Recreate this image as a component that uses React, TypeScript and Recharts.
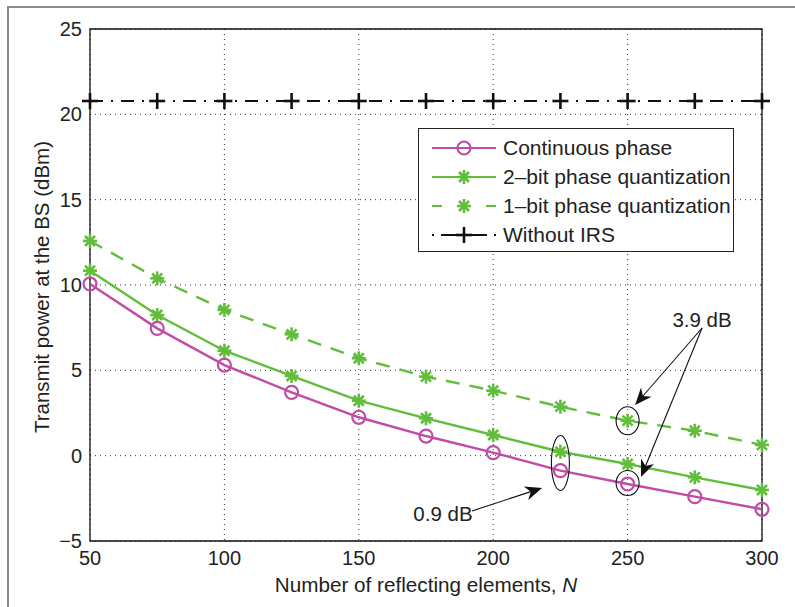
import React from "react";
import {
  LineChart,
  Line,
  XAxis,
  YAxis,
  CartesianGrid,
  ReferenceArea,
  ReferenceDot,
  ReferenceLine,
  Label,
} from "recharts";

const elements = [50, 75, 100, 125, 150, 175, 200, 225, 250, 275, 300];
const continuousPhase = [10.06, 7.46, 5.31, 3.71, 2.25, 1.15, 0.18, -0.88, -1.66, -2.4, -3.14];
const twoBit = [10.84, 8.24, 6.15, 4.67, 3.22, 2.19, 1.21, 0.23, -0.49, -1.27, -2.01];
const oneBit = [12.58, 10.39, 8.54, 7.11, 5.71, 4.63, 3.81, 2.87, 2.05, 1.46, 0.63];
const withoutIRS = [20.78, 20.78, 20.78, 20.78, 20.78, 20.78, 20.78, 20.78, 20.78, 20.78, 20.78];

const xTicks = [50, 100, 150, 200, 250, 300];
const yTicks = [-5, 0, 5, 10, 15, 20, 25];

const legendNames = [
  "Continuous phase",
  "2\u2013bit phase quantization",
  "1\u2013bit phase quantization",
  "Without IRS",
];

// annotation positions in data units
const ellipses = [
  { x: 225, y: -0.43, rx: 9, ry: 27.5 },
  { x: 250, y: 2.05, rx: 11.5, ry: 14 },
  { x: 250, y: -1.6, rx: 11.5, ry: 12.5 },
];
const arrows = [
  { from: { x: 277.7, y: 7.48 }, to: { x: 252.8, y: 2.97 } },
  { from: { x: 277.7, y: 7.48 }, to: { x: 255.0, y: -1.25 } },
  { from: { x: 192.1, y: -3.24 }, to: { x: 218.2, y: -1.89 } },
];
const notes = [
  { x: 277.7, y: 7.95, text: "3.9 dB" },
  { x: 181.3, y: -3.36, text: "0.9 dB" },
];

const data = elements.map((n, i) => ({
  n,
  cont: continuousPhase[i],
  two: twoBit[i],
  one: oneBit[i],
  none: withoutIRS[i],
}));

const MAGENTA = "#c04ca6";
const GREEN = "#62bd3c";
const FONT = "'Liberation Sans', Arial, sans-serif";

const Circle = ({ cx, cy }: any) => (
  <circle cx={cx} cy={cy} r={6.5} fill="none" stroke={MAGENTA} strokeWidth={2.2} />
);

const Star = ({ cx, cy }: any) => {
  const s = 7;
  const d = 5;
  return (
    <g stroke={GREEN} strokeWidth={2.6} strokeLinecap="butt">
      <line x1={cx - s} y1={cy} x2={cx + s} y2={cy} />
      <line x1={cx} y1={cy - s} x2={cx} y2={cy + s} />
      <line x1={cx - d} y1={cy - d} x2={cx + d} y2={cy + d} />
      <line x1={cx - d} y1={cy + d} x2={cx + d} y2={cy - d} />
    </g>
  );
};

const Plus = ({ cx, cy }: any) => (
  <g stroke="#111" strokeWidth={2.6}>
    <line x1={cx - 8} y1={cy} x2={cx + 8} y2={cy} />
    <line x1={cx} y1={cy - 8} x2={cx} y2={cy + 8} />
  </g>
);

const Arrow = ({ x1, y1, x2, y2 }: any) => {
  const dx = x2 - x1;
  const dy = y2 - y1;
  const len = Math.sqrt(dx * dx + dy * dy);
  const ux = dx / len;
  const uy = dy / len;
  const L = 17;
  const W = 7;
  const bx = x2 - ux * L;
  const by = y2 - uy * L;
  const nx = x2 - ux * L * 0.7;
  const ny = y2 - uy * L * 0.7;
  const pts = [
    [x2, y2],
    [bx - uy * W, by + ux * W],
    [nx, ny],
    [bx + uy * W, by - ux * W],
  ]
    .map((p) => p.join(","))
    .join(" ");
  return (
    <g>
      <line x1={x1} y1={y1} x2={nx} y2={ny} stroke="#111" strokeWidth={1.1} />
      <polygon points={pts} fill="#111" />
    </g>
  );
};

const sample = (i: number) => {
  const y = 14;
  if (i === 0)
    return (
      <>
        <line x1={0} y1={y} x2={64} y2={y} stroke={MAGENTA} strokeWidth={2} />
        <Circle cx={32} cy={y} />
      </>
    );
  if (i === 1)
    return (
      <>
        <line x1={0} y1={y} x2={64} y2={y} stroke={GREEN} strokeWidth={2} />
        <Star cx={32} cy={y} />
      </>
    );
  if (i === 2)
    return (
      <>
        <line x1={0} y1={y} x2={10} y2={y} stroke={GREEN} strokeWidth={2} />
        <line x1={54} y1={y} x2={64} y2={y} stroke={GREEN} strokeWidth={2} />
        <Star cx={32} cy={y} />
      </>
    );
  return (
    <>
      <line x1={0} y1={y} x2={2} y2={y} stroke="#111" strokeWidth={2} />
      <line x1={9} y1={y} x2={55} y2={y} stroke="#111" strokeWidth={2} />
      <line x1={62} y1={y} x2={64} y2={y} stroke="#111" strokeWidth={2} />
      <Plus cx={32} cy={y} />
    </>
  );
};

const LegendBox = () => (
  <div
    style={{
      position: "absolute",
      left: 418,
      top: 128,
      width: 314,
      height: 118,
      border: "1px solid #222",
      background: "#fff",
      fontFamily: FONT,
      fontSize: 21,
      color: "#222",
      paddingTop: 4,
      boxSizing: "content-box",
      whiteSpace: "nowrap",
    }}
  >
    {legendNames.map((name, i) => (
      <div key={name} style={{ display: "flex", alignItems: "center", height: 29 }}>
        <svg width={64} height={28} style={{ marginLeft: 13, marginRight: 7, flexShrink: 0 }}>
          {sample(i)}
        </svg>
        <span>{name}</span>
      </div>
    ))}
  </div>
);

const fmt = (v: number) => (v < 0 ? "\u2212" + Math.abs(v) : String(v));

export default function App() {
  return (
    <div
      style={{
        position: "absolute",
        left: 0,
        top: 0,
        width: 795,
        height: 607,
        background: "#fff",
        overflow: "hidden",
      }}
    >
      <div
        style={{
          position: "absolute",
          left: 7,
          top: 6,
          width: 800,
          height: 620,
          borderLeft: "2px solid #8c8c8c",
          borderTop: "2px solid #8c8c8c",
        }}
      />
      <LineChart
        width={795}
        height={607}
        data={data}
        margin={{ top: 29, right: 33, bottom: 26, left: 38 }}
        style={{ position: "absolute", left: 0, top: 0, fontFamily: FONT }}
      >
        <CartesianGrid stroke="#333" strokeDasharray="1 4" strokeWidth={1} />
        <XAxis
          dataKey="n"
          type="number"
          domain={[50, 300]}
          ticks={xTicks}
          height={40}
          tickLine={false}
          axisLine={false}
          tickMargin={4}
          tick={{ fill: "#222", fontSize: 20 }}
        >
          <Label
            content={({ viewBox }: any) => (
              <text
                x={viewBox.x + viewBox.width / 2}
                y={viewBox.y + 51}
                textAnchor="middle"
                fontSize={20.7}
                fill="#222"
                fontFamily={FONT}
              >
                Number of reflecting elements,{" "}
                <tspan fontStyle="italic">N</tspan>
              </text>
            )}
          />
        </XAxis>
        <YAxis
          type="number"
          domain={[-5, 25]}
          ticks={yTicks}
          width={52}
          tickLine={false}
          axisLine={false}
          tickFormatter={fmt}
          tick={{ fill: "#222", fontSize: 20 }}
        >
          <Label
            content={({ viewBox }: any) => {
              const cx = 41;
              const cy = viewBox.y + viewBox.height / 2 + 2;
              return (
                <text
                  x={cx}
                  y={cy}
                  transform={`rotate(-90 ${cx} ${cy})`}
                  textAnchor="middle"
                  dominantBaseline="central"
                  fontSize={20.5}
                  fill="#222"
                  fontFamily={FONT}
                >
                  Transmit power at the BS (dBm)
                </text>
              );
            }}
          />
        </YAxis>
        <ReferenceArea
          x1={50}
          x2={300}
          y1={-5}
          y2={25}
          fill="none"
          stroke="#111"
          strokeWidth={1.3}
          fillOpacity={0}
        />
        <Line
          dataKey="none"
          stroke="#111"
          strokeWidth={2.2}
          strokeDasharray="13 8 2 8"
          dot={(p: any) => <Plus key={`p${p.index}`} cx={p.cx} cy={p.cy} />}
          isAnimationActive={false}
        />
        <Line
          dataKey="one"
          stroke={GREEN}
          strokeWidth={2.4}
          strokeDasharray="14 10"
          dot={(p: any) => <Star key={`o${p.index}`} cx={p.cx} cy={p.cy} />}
          isAnimationActive={false}
        />
        <Line
          dataKey="two"
          stroke={GREEN}
          strokeWidth={2.4}
          dot={(p: any) => <Star key={`t${p.index}`} cx={p.cx} cy={p.cy} />}
          isAnimationActive={false}
        />
        <Line
          dataKey="cont"
          stroke={MAGENTA}
          strokeWidth={2.4}
          dot={(p: any) => <Circle key={`c${p.index}`} cx={p.cx} cy={p.cy} />}
          isAnimationActive={false}
        />
        {ellipses.map((e, i) => (
          <ReferenceDot
            key={`e${i}`}
            x={e.x}
            y={e.y}
            r={1}
            shape={(p: any) => (
              <ellipse cx={p.cx} cy={p.cy} rx={e.rx} ry={e.ry} fill="none" stroke="#111" strokeWidth={1.1} />
            )}
          />
        ))}
        {arrows.map((a, i) => (
          <ReferenceLine
            key={`a${i}`}
            segment={[a.from, a.to]}
            shape={(p: any) => <Arrow x1={p.x1} y1={p.y1} x2={p.x2} y2={p.y2} />}
          />
        ))}
        {notes.map((t, i) => (
          <ReferenceDot
            key={`n${i}`}
            x={t.x}
            y={t.y}
            r={1}
            shape={(p: any) => (
              <text
                x={p.cx}
                y={p.cy}
                textAnchor="middle"
                dominantBaseline="central"
                fontSize={20.5}
                fill="#222"
                fontFamily={FONT}
              >
                {t.text}
              </text>
            )}
          />
        ))}
      </LineChart>
      <LegendBox />
    </div>
  );
}
